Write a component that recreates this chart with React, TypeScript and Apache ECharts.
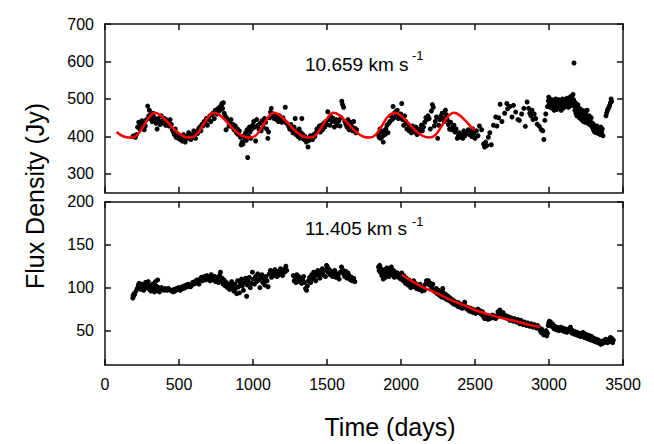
import React, { useEffect, useRef } from "react";
import * as echarts from "echarts";

// ---------- data ----------
const xTicks = [0, 500, 1000, 1500, 2000, 2500, 3000, 3500];
const topTicks = [300, 400, 500, 600, 700];
const bottomTicks = [50, 100, 150, 200];

// upper panel: 10.659 km/s feature, [day, Jy]
const topPoints: [number, number][] = [
  [188,400],[195,402],[205,398],[212,405],[220,425],[228,438],[235,420],[242,430],[250,442],[258,436],[265,418],[272,428],[280,445],[288,481],[295,455],[300,470],[305,448],[312,458],[318,440],[325,462],[330,452],[338,445],[345,435],[352,420],[358,448],
  [365,440],[372,432],[380,455],[388,442],[395,436],[402,448],[410,430],[418,444],[425,438],[432,428],[440,445],[448,432],[455,418],
  [462,412],[468,405],[475,420],[480,398],[488,408],[495,395],[500,402],[508,392],[515,398],[522,388],[530,405],[536,392],[542,385],[550,400],[558,395],[565,410],[572,398],[580,392],[588,405],[595,398],[600,415],
  [605,402],[612,395],[618,412],[625,408],[632,420],[640,425],[648,415],[655,432],[662,428],[670,440],[678,435],[685,448],[692,430],[700,445],[708,455],[715,440],[722,458],[730,462],[738,448],[745,470],[752,465],[758,460],[765,475],[770,468],[775,478],[780,472],[785,482],[790,488],[795,475],[800,490],[805,462],
  [812,455],[818,418],[825,448],[832,440],[838,428],[845,435],[852,445],[860,425],[866,432],[872,418],[880,428],[888,410],[895,420],[900,405],[908,415],[915,398],[920,378],[926,385],[932,380],[938,402],[945,395],[950,410],[955,390],[960,418],[964,344],[970,400],[975,425],[980,412],[985,395],[992,420],[998,430],
  [1005,440],[1012,425],[1018,388],[1025,445],[1032,430],[1040,420],[1048,435],[1055,415],[1062,442],[1070,425],[1078,448],[1085,438],[1092,420],[1100,395],[1105,412],[1112,450],[1118,465],[1124,475],[1130,455],[1136,460],[1142,448],[1150,458],[1158,445],[1165,452],[1172,440],[1180,455],[1188,446],[1195,438],[1202,450],[1210,442],[1218,478],[1225,436],
  [1240,428],[1248,420],[1255,432],[1262,418],[1270,410],[1278,425],[1285,448],[1290,405],[1298,415],[1305,400],[1312,420],[1318,395],[1325,410],[1330,448],[1338,405],[1345,392],[1352,400],[1360,385],[1366,395],[1372,372],[1380,390],[1388,402],[1395,398],[1402,392],[1410,405],[1418,400],
  [1425,410],[1432,420],[1440,415],[1448,428],[1455,412],[1462,430],[1470,418],[1478,435],[1485,425],[1492,440],[1500,432],[1505,466],[1512,445],[1520,430],[1528,452],[1535,440],[1542,448],[1550,425],[1558,438],[1565,445],[1572,430],[1580,442],[1588,428],[1595,450],[1600,494],[1605,485],[1612,478],[1620,440],[1628,432],[1635,425],[1642,445],[1650,418],[1658,438],
  [1665,428],[1672,415],[1680,440],[1688,422],[1695,410],[1700,418],
  [1845,405],[1852,398],[1858,420],[1862,395],[1868,412],[1875,400],[1880,385],[1886,415],[1892,405],[1898,420],[1905,430],[1912,410],[1918,435],[1925,440],[1932,455],[1940,445],[1946,480],[1952,450],[1960,465],[1968,458],[1975,470],[1982,448],[1990,452],[1998,460],[2005,488],
  [2010,445],[2018,430],[2025,455],[2032,440],[2040,420],[2048,432],[2055,415],[2062,425],[2070,410],[2078,428],[2085,418],[2092,412],[2100,425],[2108,405],[2115,420],[2122,410],[2130,418],[2138,430],[2145,415],[2152,425],[2160,438],[2168,450],[2175,445],[2182,455],[2190,448],[2198,420],
  [2205,468],[2212,485],[2218,478],[2225,428],[2232,440],[2240,452],[2248,395],[2255,430],[2262,445],[2270,455],[2278,462],[2285,448],[2292,440],[2300,470],[2306,458],[2312,445],[2320,432],[2328,420],[2335,438],[2342,418],[2350,425],[2358,430],[2365,412],[2372,420],[2380,395],[2388,402],[2395,410],[2402,398],[2410,405],[2418,395],[2425,415],[2432,402],[2440,410],
  [2455,418],[2462,405],[2470,412],[2478,400],[2485,420],[2492,408],[2500,395],[2510,415],[2520,402],[2530,428],[2545,418],[2558,380],[2565,372],[2572,385],[2580,376],[2590,398],[2600,410],[2610,378],[2625,430],[2640,452],
  [2648,428],[2660,450],[2670,486],[2682,440],[2700,462],[2715,488],[2720,474],[2735,480],[2750,452],[2760,483],[2775,465],[2790,445],[2800,443],[2815,460],[2830,475],[2840,427],[2852,492],[2862,475],[2870,462],[2878,455],[2885,470],[2892,445],[2900,460],[2910,448],[2920,433],[2935,427],[2948,418],[2958,415],[2965,392],[2972,443],[2978,460],
  [2990,480],[2995,495],[2998,505],[3002,488],[3005,500],[3008,478],[3012,492],[3015,485],[3018,498],[3022,475],[3025,490],[3028,482],[3032,495],[3035,470],[3038,488],[3042,480],[3045,500],[3048,485],[3052,472],[3055,492],[3058,488],[3062,478],[3065,498],[3068,486],[3072,494],[3075,480],[3078,490],[3082,470],[3085,495],[3088,482],[3092,500],[3095,488],[3098,476],[3102,492],[3105,485],[3108,498],[3112,480],[3115,494],[3118,488],[3122,502],[3125,485],[3128,495],[3132,478],[3135,500],[3138,490],[3142,505],[3145,482],[3148,496],[3152,488],[3155,508],[3158,492],[3162,512],[3166,498],[3169,596],
  [3172,480],[3175,470],[3178,490],[3182,462],[3185,478],[3188,455],[3192,472],[3195,485],[3198,460],[3202,468],[3205,450],[3208,475],[3212,458],[3215,465],[3218,445],[3222,470],[3225,452],[3228,462],[3232,440],[3235,455],[3238,468],[3242,448],[3245,438],[3248,460],[3252,442],[3255,452],[3258,470],[3262,435],[3265,448],[3268,440],[3272,455],[3275,432],[3278,445],[3282,438],[3285,450],[3288,428],
  [3292,425],[3296,435],[3300,418],[3304,430],[3308,412],[3312,425],[3316,420],[3320,410],[3324,428],[3328,415],[3332,422],[3336,408],[3340,418],[3345,405],[3350,425],[3355,412],[3360,420],[3365,402],
  [3385,455],[3390,463],[3395,470],[3400,475],[3405,478],[3410,483],[3415,490],[3420,500],[3423,493],
];

// upper panel fitted curve, [day, Jy]
const topFit: [number, number][] = [
  [79,412],[110,403],[145,398],[180,397],[220,405],[260,428],[300,452],[333,463],[373,457],[413,442],[453,425],[493,410],[533,400],[578,397],
  [618,405],[658,428],[698,452],[735,463],[775,457],[815,442],[855,425],[895,410],[935,400],[985,397],
  [1025,405],[1065,428],[1105,452],[1140,463],[1180,457],[1220,442],[1260,425],[1300,410],[1340,400],[1388,397],
  [1428,405],[1468,428],[1508,452],[1543,463],[1583,457],[1623,442],[1663,425],[1703,410],[1743,400],[1790,397],
  [1830,405],[1870,428],[1910,452],[1955,463],[1995,457],[2035,442],[2075,425],[2115,410],[2155,400],[2195,397],
  [2235,405],[2275,428],[2315,452],[2355,463],[2395,457],[2435,442],[2475,425],[2500,417],
];

// lower panel: 11.405 km/s feature, [day, Jy]
const bottomPoints: [number, number][] = [
  [188,88],[190,91],[192,90],[196,93],[200,92],[210,96],[218,99],[225,103],[230,105],[236,100],[242,98],[248,104],[255,101],[262,97],[268,103],[274,106],[280,100],[286,104],[292,107],[298,98],[304,102],[310,96],[316,100],[322,104],[328,99],[334,95],[340,107],[345,102],[350,97],[356,109],[362,100],[368,95],
  [375,99],[382,100],[390,98],[398,97],[405,99],[412,98],[420,97],[428,99],[436,98],[444,97],[452,96],[460,95],[466,98],[472,96],[478,97],[484,99],[490,98],[496,100],[502,99],[508,97],[515,100],[522,101],[530,99],[536,102],[542,100],[548,103],[555,101],[562,104],[570,102],[578,101],[585,103],[592,106],[598,104],
  [605,107],[612,105],[620,109],[628,108],[635,104],[642,110],[650,112],[658,108],[665,111],[672,113],[680,109],[688,114],[695,110],[702,112],[710,108],[718,115],[725,111],[732,109],[740,113],[748,107],[755,110],[762,112],[768,106],[775,114],[780,118],[786,108],[792,111],[798,104],[805,109],[812,102],[820,106],[828,100],
  [836,104],[842,98],[850,103],[856,107],[862,101],[870,96],[876,104],[882,99],[890,93],[896,108],[902,101],[908,94],[915,105],[922,110],[928,102],[935,97],[942,106],[950,111],[957,90],[962,103],[968,108],[975,112],[982,100],[990,105],[996,118],
  [1003,110],[1010,104],[1018,113],[1025,107],[1032,116],[1040,109],[1046,100],[1052,112],[1060,115],[1066,106],[1072,110],[1080,103],[1088,113],[1095,108],[1102,101],[1110,116],[1118,120],[1125,112],[1132,118],[1140,114],[1148,121],[1155,116],[1162,113],[1170,119],[1178,115],[1186,122],[1194,117],[1200,114],[1208,121],[1215,118],[1222,125],[1228,120],
  [1272,114],[1278,108],[1285,112],[1290,106],[1296,115],[1302,110],[1308,113],[1315,107],[1322,111],[1328,105],[1335,109],[1342,113],[1348,106],[1355,99],[1362,97],[1368,102],
  [1375,108],[1382,112],[1390,106],[1396,115],[1402,110],[1410,118],[1416,113],[1424,108],[1430,116],[1438,120],[1445,114],[1452,111],[1460,118],[1468,122],[1475,115],[1482,120],[1490,113],[1497,126],[1502,124],
  [1508,118],[1515,121],[1522,115],[1530,119],[1538,113],[1545,117],[1552,120],[1560,112],[1568,116],[1575,114],[1582,110],[1590,118],[1598,124],[1605,121],[1612,116],[1620,113],[1628,119],[1635,111],[1642,117],[1650,114],[1658,109],[1665,112],[1672,108],[1680,111],[1688,107],
  [1848,124],[1852,120],[1856,126],[1860,118],[1865,122],[1870,114],[1875,119],[1880,110],[1885,116],[1890,121],[1895,112],[1900,117],[1905,123],[1910,115],[1915,119],[1920,113],[1925,121],[1930,117],[1935,124],[1940,119],[1945,115],[1950,120],[1955,112],[1960,118],[1968,114],[1975,117],[1982,112],[1990,115],[1998,110],
  [2005,117],[2010,112],[2015,108],[2020,114],[2025,110],[2030,105],[2036,111],[2042,107],[2048,103],[2055,109],[2060,104],[2066,100],[2072,106],[2078,102],[2085,108],[2092,101],[2098,105],[2105,99],[2112,103],[2120,98],[2128,104],[2135,100],[2142,96],[2150,101],[2158,97],[2165,104],[2172,108],[2178,106],[2185,108],[2192,103],[2200,105],
  [2208,100],[2215,104],[2222,97],[2230,95],[2238,99],[2245,93],[2252,97],[2260,91],[2268,95],[2275,89],[2282,99],[2288,94],[2295,88],[2302,92],[2310,86],[2318,90],[2325,85],[2332,88],[2340,83],[2348,86],[2355,81],[2362,84],[2370,80],[2378,83],[2385,78],[2392,82],[2400,77],
  [2408,80],[2415,76],[2422,79],[2430,83],[2438,78],[2445,75],[2452,77],[2460,73],[2468,76],[2475,72],[2482,75],[2490,71],[2498,74],[2505,70],[2512,73],[2520,75],[2528,71],[2535,73],[2542,69],[2550,72],
  [2558,66],[2565,64],[2572,68],[2580,65],[2588,63],[2595,67],[2602,64],[2610,66],[2618,68],[2625,65],[2632,67],[2640,64],[2648,66],[2655,72],[2662,69],[2668,74],[2675,70],[2682,67],[2690,71],[2698,68],[2705,65],[2712,67],[2720,64],[2728,66],[2735,62],[2742,65],[2750,63],[2758,61],
  [2765,64],[2772,62],[2780,60],[2788,63],[2795,61],[2802,58],[2810,62],[2818,59],[2825,57],[2832,60],[2840,58],[2848,56],[2855,59],[2862,57],[2870,55],[2878,58],[2885,56],[2892,54],[2900,57],[2908,55],[2915,53],[2922,56],[2930,54],[2938,51],
  [2942,50],[2946,48],[2950,52],[2955,47],[2960,49],[2965,45],[2970,48],[2975,46],[2980,50],[2985,44],[2990,47],
  [2995,56],[2998,59],[3002,61],[3006,58],[3010,60],[3014,57],[3018,55],[3022,58],[3026,54],[3030,56],[3035,52],[3040,55],[3045,53],[3050,51],[3055,54],[3060,52],[3065,50],[3070,53],[3075,51],[3080,54],[3085,52],[3090,50],[3095,53],[3100,51],[3105,49],[3110,52],[3115,50],[3120,48],[3125,51],[3130,49],[3135,52],[3140,50],[3145,54],[3150,51],[3155,47],[3160,50],
  [3165,48],[3170,46],[3175,49],[3180,47],[3185,45],[3190,48],[3195,46],[3200,44],[3205,47],[3210,45],[3215,43],[3220,46],[3225,44],[3230,48],[3235,45],[3240,42],[3245,46],[3250,44],[3255,41],[3260,45],[3265,43],[3270,40],[3275,44],[3280,42],[3285,39],[3290,43],[3295,41],
  [3300,38],[3305,41],[3310,39],[3315,37],[3320,40],[3325,38],[3330,36],[3335,39],[3340,37],[3345,35],[3350,34],[3355,37],[3360,35],[3365,38],[3370,36],[3375,39],[3380,37],[3385,40],[3390,38],[3395,36],[3400,39],[3405,37],[3410,40],[3415,42],[3420,38],[3425,41],[3430,36],[3435,39],
];

// lower panel fitted curve, [day, Jy]
const bottomFit: [number, number][] = [
  [2005,115],[2060,109],[2120,103],[2162,99.5],[2250,93],[2330,86],[2420,80],[2500,74],[2580,69.5],[2660,65.5],[2750,62],[2830,58.5],[2900,55.5],[2940,54],
];

const topLabel = "10.659 km s";
const bottomLabel = "11.405 km s";
const superscript = "-1";
const yTitle = "Flux Density (Jy)";
const xTitle = "Time (days)";

// ---------- styling ----------
const FONT = "'Liberation Sans', Arial, Helvetica, sans-serif";
const INK = "#000000";
const lineStyle = { color: "#111111", width: 1.5 };

function xAxis(gridIndex: number, position: "top" | "bottom", labels: boolean) {
  return {
    type: "value",
    gridIndex,
    position,
    min: 0,
    max: 3500,
    interval: 500,
    axisLine: { show: true, onZero: false, lineStyle },
    axisTick: { show: true, inside: true, length: 6, lineStyle },
    axisLabel: {
      show: labels,
      margin: 11,
      fontSize: 16,
      color: INK,
      fontFamily: FONT,
      customValues: xTicks,
      formatter: (v: number) => String(v),
    },
    splitLine: { show: false },
  };
}

function yAxis(gridIndex: number, position: "left" | "right", min: number, max: number, ticks: number[], labels: boolean) {
  return {
    type: "value",
    gridIndex,
    position,
    min,
    max,
    axisLine: { show: true, onZero: false, lineStyle },
    axisTick: { show: true, inside: true, length: 6, lineStyle, customValues: ticks },
    axisLabel: {
      show: labels,
      margin: 11,
      fontSize: 16,
      color: INK,
      fontFamily: FONT,
      customValues: ticks,
      formatter: (v: number) => String(v),
    },
    splitLine: { show: false },
  };
}

export default function App() {
  const ref = useRef<HTMLDivElement>(null);

  useEffect(() => {
    if (!ref.current) return;
    const chart = echarts.init(ref.current, null, { renderer: "svg" });
    chart.setOption({
      animation: false,
      backgroundColor: "#ffffff",
      grid: [
        { left: 105, top: 24, width: 518, height: 168.7 },
        { left: 105, top: 201.7, width: 518, height: 163.3 },
      ],
      xAxis: [
        xAxis(0, "bottom", false),
        xAxis(0, "top", false),
        xAxis(1, "bottom", true),
        xAxis(1, "top", false),
      ],
      yAxis: [
        yAxis(0, "left", 250, 700, topTicks, true),
        yAxis(0, "right", 250, 700, topTicks, false),
        yAxis(1, "left", 10, 200, bottomTicks, true),
        yAxis(1, "right", 10, 200, bottomTicks, false),
      ],
      series: [
        {
          type: "scatter",
          xAxisIndex: 0,
          yAxisIndex: 0,
          data: topPoints,
          symbol: "circle",
          symbolSize: 5,
          itemStyle: { color: "#000", opacity: 1 },
          silent: true,
        },
        {
          type: "line",
          xAxisIndex: 0,
          yAxisIndex: 0,
          data: topFit,
          showSymbol: false,
          smooth: 0.35,
          lineStyle: { color: "#ff0000", width: 2.5 },
          silent: true,
          z: 3,
        },
        {
          type: "scatter",
          xAxisIndex: 2,
          yAxisIndex: 2,
          data: bottomPoints,
          symbol: "circle",
          symbolSize: 5,
          itemStyle: { color: "#000", opacity: 1 },
          silent: true,
        },
        {
          type: "line",
          xAxisIndex: 2,
          yAxisIndex: 2,
          data: bottomFit,
          showSymbol: false,
          smooth: 0.35,
          lineStyle: { color: "#ff0000", width: 2.5 },
          silent: true,
          z: 3,
        },
      ],
      graphic: [
        {
          type: "text",
          x: 305,
          y: 64,
          style: { text: topLabel, font: `19px ${FONT}`, fill: INK, align: "left", verticalAlign: "middle" },
        },
        {
          type: "text",
          x: 412,
          y: 55,
          style: { text: superscript, font: `13px ${FONT}`, fill: INK, align: "left", verticalAlign: "middle" },
        },
        {
          type: "text",
          x: 305,
          y: 228.5,
          style: { text: bottomLabel, font: `19px ${FONT}`, fill: INK, align: "left", verticalAlign: "middle" },
        },
        {
          type: "text",
          x: 412,
          y: 221,
          style: { text: superscript, font: `13px ${FONT}`, fill: INK, align: "left", verticalAlign: "middle" },
        },
        {
          type: "text",
          x: 35,
          y: 196,
          rotation: Math.PI / 2,
          style: { text: yTitle, font: `25px ${FONT}`, fill: INK, align: "center", verticalAlign: "middle" },
        },
        {
          type: "text",
          x: 390,
          y: 427,
          style: { text: xTitle, font: `25px ${FONT}`, fill: INK, align: "center", verticalAlign: "middle" },
        },
      ],
    });
    return () => chart.dispose();
  }, []);

  return (
    <div
      ref={ref}
      style={{ position: "fixed", left: 0, top: 0, width: 654, height: 444, background: "#fff" }}
    />
  );
}
